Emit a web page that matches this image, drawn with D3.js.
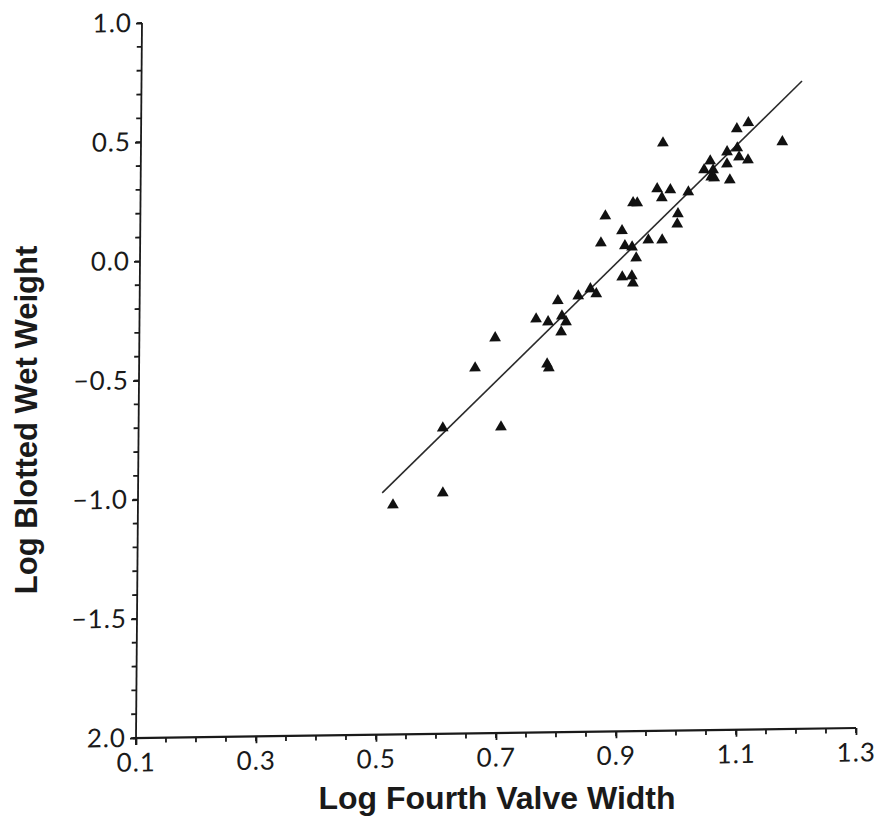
<!DOCTYPE html>
<html>
<head>
<meta charset="utf-8">
<script src="https://cdn.jsdelivr.net/npm/d3@7/dist/d3.min.js"></script>
<style>
  html, body { margin: 0; padding: 0; background: #ffffff; }
  svg { display: block; }
</style>
</head>
<body>
<svg id="chart" width="881" height="826"></svg>
<script>
// ---- data ----
const widthLog = [0.525, 0.608, 0.607, 0.660, 0.693, 0.704, 0.761, 0.781, 0.780, 0.783,
  0.797, 0.804, 0.811, 0.803, 0.831, 0.851, 0.861, 0.868, 0.875, 0.903,
  0.904, 0.920, 0.922, 0.908, 0.920, 0.927, 0.921, 0.928, 0.947, 0.970,
  0.961, 0.983, 0.969, 0.996, 0.995, 1.013, 0.970, 1.039, 1.054, 1.049,
  1.051, 1.056, 1.082, 1.077, 1.094, 1.097, 1.112, 1.077, 1.093, 1.112, 1.169];
const weightLog = [-1.037, -0.990, -0.717, -0.467, -0.342, -0.716, -0.265, -0.278, -0.455, -0.471,
  -0.190, -0.254, -0.279, -0.321, -0.171, -0.142, -0.163, 0.050, 0.163, 0.100,
  -0.094, -0.090, -0.120, 0.037, 0.031, -0.015, 0.217, 0.216, 0.060, 0.059,
  0.274, 0.269, 0.236, 0.168, 0.125, 0.259, 0.466, 0.351, 0.350, 0.388,
  0.321, 0.316, 0.307, 0.425, 0.441, 0.403, 0.390, 0.374, 0.521, 0.546, 0.464];
const fitX = [0.507, 1.201];
const fitY = [-0.986, 0.718];

const xTickValues = [0.1, 0.3, 0.5, 0.7, 0.9, 1.1, 1.3];
const xTickLabels = ["0.1", "0.3", "0.5", "0.7", "0.9", "1.1", "1.3"];
const yTickValues = [-2.0, -1.5, -1.0, -0.5, 0.0, 0.5, 1.0];
const yTickLabels = ["2.0", "\u22121.5", "\u22121.0", "\u22120.5", "0.0", "0.5", "1.0"];
const xMinorStep = 0.05;
const yMinorStep = 0.1;
const xTitle = "Log Fourth Valve Width";
const yTitle = "Log Blotted Wet Weight";

// ---- layout ----
const svg = d3.select("#chart");
const plotW = 720, plotH = 715;
const x = d3.scaleLinear().domain([0.1, 1.3]).range([0, plotW]);
const y = d3.scaleLinear().domain([-2.0, 1.0]).range([0, -plotH]);

// slight skew like the scanned original
const g = svg.append("g")
  .attr("transform", "matrix(1,-0.01389,-0.00838,1,136,738)");

const ink = "#1a1a1a";
const tickFont = "Lato, 'Open Sans', 'DejaVu Sans', sans-serif";

const xMinor = d3.range(0, 25).map(i => +(0.1 + i * xMinorStep).toFixed(2));
const yMinor = d3.range(0, 31).map(i => +(-2.0 + i * yMinorStep).toFixed(1));

// minor ticks
g.append("g").selectAll("line").data(xMinor).join("line")
  .attr("x1", d => x(d)).attr("x2", d => x(d))
  .attr("y1", 0).attr("y2", 5)
  .attr("stroke", ink).attr("stroke-width", 1.8);
g.append("g").selectAll("line").data(yMinor).join("line")
  .attr("y1", d => y(d)).attr("y2", d => y(d))
  .attr("x1", 0).attr("x2", -5)
  .attr("stroke", ink).attr("stroke-width", 1.8);

// major axes
const xAxis = g.append("g")
  .call(d3.axisBottom(x).tickValues(xTickValues).tickSize(7).tickSizeOuter(0).tickPadding(8)
    .tickFormat((d, i) => xTickLabels[i]));
xAxis.select(".domain").attr("stroke", ink).attr("stroke-width", 2.2)
  .attr("d", `M${-3},0H${plotW}`);
xAxis.selectAll(".tick line").attr("stroke", ink).attr("stroke-width", 1.8);
xAxis.selectAll("text").attr("fill", ink).attr("font-family", tickFont)
  .attr("font-weight", 400).attr("font-size", 26).attr("letter-spacing", 1);

const yAxis = g.append("g")
  .call(d3.axisLeft(y).tickValues(yTickValues).tickSize(6).tickSizeOuter(0).tickPadding(4)
    .tickFormat((d, i) => yTickLabels[i]));
yAxis.select(".domain").attr("stroke", ink).attr("stroke-width", 1.8)
  .attr("d", `M0,${-plotH}V7`);
yAxis.selectAll(".tick line").attr("stroke", ink).attr("stroke-width", 1.8);
yAxis.selectAll("text").attr("fill", ink).attr("font-family", tickFont)
  .attr("font-weight", 400).attr("font-size", 26).attr("letter-spacing", 1);

// regression line
g.append("line")
  .attr("x1", x(fitX[0])).attr("y1", y(fitY[0]))
  .attr("x2", x(fitX[1])).attr("y2", y(fitY[1]))
  .attr("stroke", "#2a2a2a").attr("stroke-width", 1.6);

// points
const tri = d3.symbol().type(d3.symbolTriangle).size(60);
g.append("g").selectAll("path")
  .data(widthLog.map((w, i) => [w, weightLog[i]]))
  .join("path")
  .attr("d", tri)
  .attr("transform", d => `translate(${x(d[0])},${y(d[1])})`)
  .attr("fill", "#111");

// titles
svg.append("text")
  .attr("x", 497).attr("y", 809)
  .attr("text-anchor", "middle")
  .attr("font-family", "'Liberation Sans', Arial, sans-serif")
  .attr("font-weight", "bold").attr("font-size", 32)
  .attr("fill", ink)
  .text(xTitle);

svg.append("text")
  .attr("transform", "translate(37,420) rotate(-90)")
  .attr("text-anchor", "middle")
  .attr("font-family", "'Liberation Sans', Arial, sans-serif")
  .attr("font-weight", "bold").attr("font-size", 31)
  .attr("fill", ink)
  .text(yTitle);
</script>
</body>
</html>
